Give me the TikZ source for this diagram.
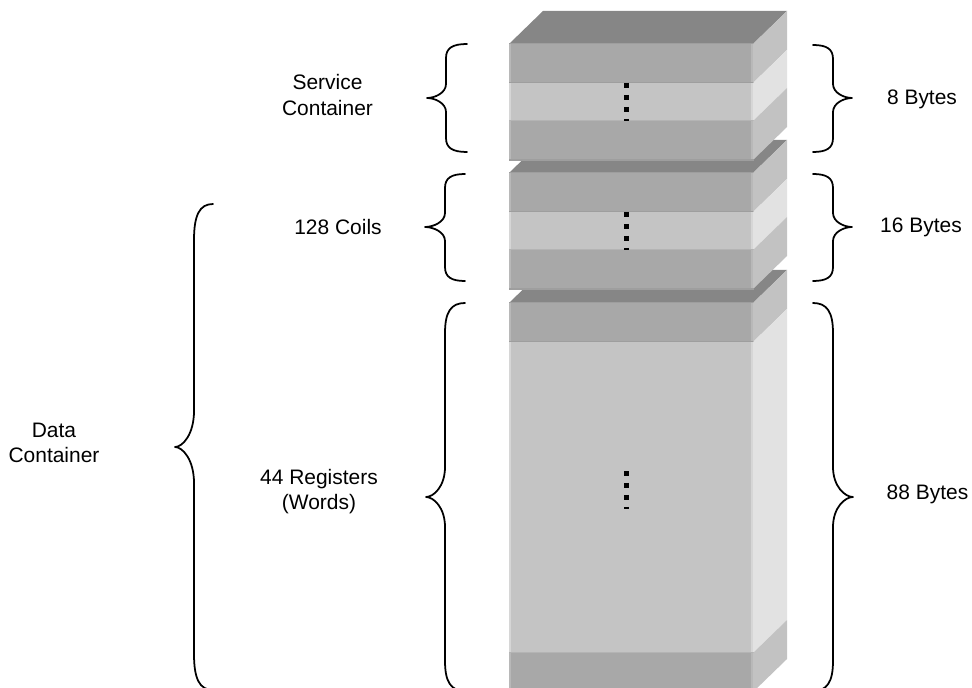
\documentclass[tikz,border=0pt]{standalone}
\usepackage{fontspec}
\setmainfont{Liberation Sans}

\definecolor{topgrey}{HTML}{868686}
\definecolor{darkgrey}{HTML}{A8A8A8}
\definecolor{lightgrey}{HTML}{C4C4C4}
\definecolor{sidedark}{HTML}{C2C2C2}
\definecolor{sidelight}{HTML}{E2E2E2}
\definecolor{seamdark}{HTML}{9E9E9E}
\definecolor{seamlight}{HTML}{B4B4B4}
\definecolor{sheendark}{HTML}{B8B8B8}
\definecolor{sheenlight}{HTML}{D6D6D6}

\tikzset{
  lab/.style={align=center,inner sep=0pt,font=\fontsize{14.9}{17.8}\selectfont},
  curly/.style={line width=1.25pt,line cap=round,line join=round},
  dots/.style={line width=3.54pt,dash pattern=on 3.54pt off 4.96pt},
}

% top, bottom, front, side, sheen, seam
\newcommand{\band}[6]{
  \fill[#3] (509,#1) rectangle (753,#2);
  \fill[#4] (753,#1) -- (787,{#1-33}) -- (787,{#2-33}) -- (753,#2) -- cycle;
  \fill[#5] (509,#1) rectangle (511,#2);
  \fill[#5] (751,#1) rectangle (753,#2);
  \fill[#6] (509,{#2-1.2}) rectangle (754,{#2+1.2});
}
% lid of a block
\newcommand{\lid}[1]{
  \fill[topgrey] (509,#1) -- (543,{#1-33}) -- (787,{#1-33}) -- (753,#1) -- cycle;
  \fill[seamdark] (509,{#1-1}) rectangle (754,{#1+1.5});
}
% end, spine, tip, top, middle, bottom, bend
\newcommand{\curly}[7]{
  \draw[curly] (#1,#4) .. controls ({#2+.3*(#1-#2)},#4) and (#2,{#4+.3*#7}) .. (#2,{#4+#7})
    -- (#2,{#5-#7}) .. controls (#2,{#5-.35*#7}) and ({#3+.4*(#2-#3)},#5) .. (#3,#5)
    .. controls ({#3+.4*(#2-#3)},#5) and (#2,{#5+.35*#7}) .. (#2,{#5+#7})
    -- (#2,{#6-#7}) .. controls (#2,{#6-.3*#7}) and ({#2+.3*(#1-#2)},#6) .. (#1,#6);
}

\begin{document}
\begin{tikzpicture}[x=.025cm,y=-.025cm]
\useasboundingbox (0,0) rectangle (972,688);
\clip (0,0) rectangle (972,688);

% lower block
\lid{303}
\band{303}{342}{darkgrey}{sidedark}{sheendark}{seamdark}
\band{342}{653}{lightgrey}{sidelight}{sheenlight}{seamlight}
\band{653}{692}{darkgrey}{sidedark}{sheendark}{seamdark}
\draw[dots] (626.5,471) -- (626.5,509);

% middle block
\lid{173}
\band{173}{212}{darkgrey}{sidedark}{sheendark}{seamdark}
\band{212}{250}{lightgrey}{sidelight}{sheenlight}{seamlight}
\band{250}{289}{darkgrey}{sidedark}{sheendark}{seamdark}
\draw[dots] (626.5,212) -- (626.5,250);

% upper block
\lid{44}
\band{44}{83}{darkgrey}{sidedark}{sheendark}{seamdark}
\band{83}{121}{lightgrey}{sidelight}{sheenlight}{seamlight}
\band{121}{160}{darkgrey}{sidedark}{sheendark}{seamdark}
\draw[dots] (626.5,83) -- (626.5,121);

% braces
\curly{467}{446}{427}{44}{98}{152}{14}
\curly{465}{445}{425}{174}{227}{281}{14}
\curly{465}{445}{426}{303}{497}{691}{30}
\curly{213}{194}{175}{204}{447}{690}{36}
\curly{813}{833}{852}{45}{98}{152}{14}
\curly{813}{833}{852}{174}{227}{281}{14}
\curly{813}{833}{853}{303}{497}{691}{30}

% labels
\node[lab] (service) at (327.5,95) {Service\\Container};
\node[lab] (coils) at (338,227) {128 Coils};
\node[lab] (registers) at (319,492) {44 Registers\\(Words)};
\node[lab] (data) at (54,442.5) {Data\\Container};
\node[lab] (bytes8) at (922,99.5) {8 Bytes};
\node[lab] (bytes16) at (921,227.6) {16 Bytes};
\node[lab] (bytes88) at (927.5,494.5) {88 Bytes};
\end{tikzpicture}
\end{document}
